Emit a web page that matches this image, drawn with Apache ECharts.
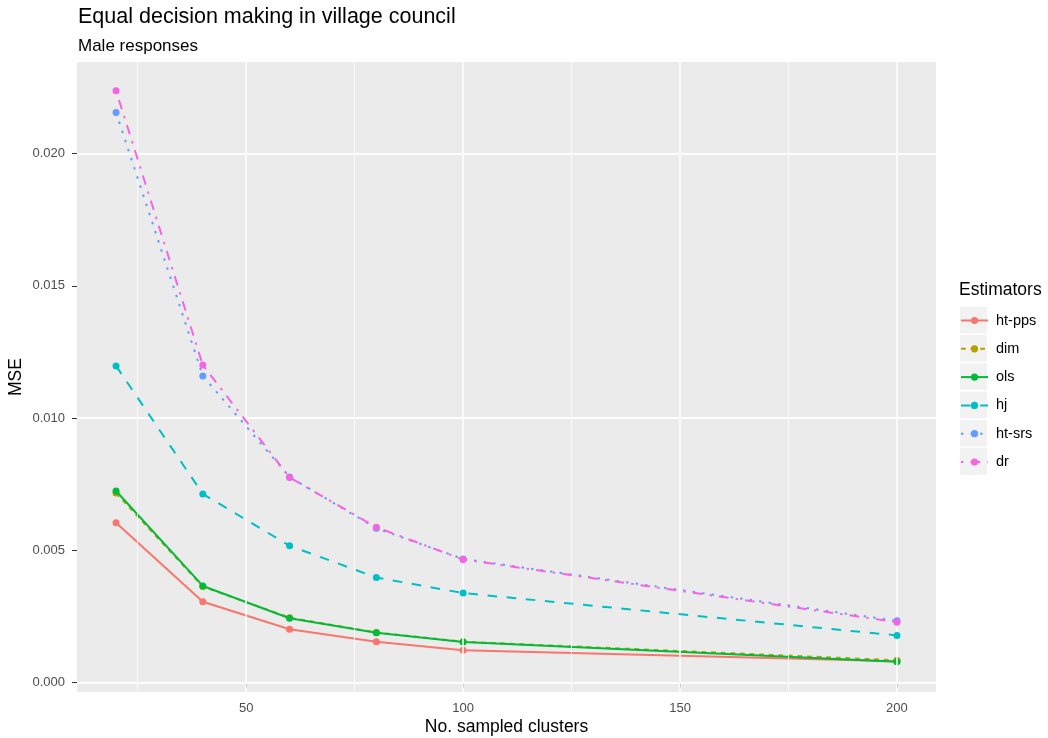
<!DOCTYPE html>
<html>
<head>
<meta charset="utf-8">
<script src="https://cdn.jsdelivr.net/npm/echarts@6/dist/echarts.min.js"></script>
<style>
html,body{margin:0;padding:0;background:#fff;}
#c{width:1048px;height:738px;}
</style>
</head>
<body>
<div id="c"></div>
<script>
// ---- data ----
const clusters = [20, 40, 60, 80, 100, 200];
const estimators = ['ht-pps', 'dim', 'ols', 'hj', 'ht-srs', 'dr'];
const htpps = [0.00604, 0.00305, 0.00201, 0.00154, 0.00122, 0.00080];
const dim   = [0.00716, 0.00363, 0.00245, 0.00189, 0.00154, 0.00084];
const ols   = [0.00724, 0.00365, 0.00243, 0.00188, 0.00153, 0.00078];
const hj    = [0.01197, 0.00713, 0.00517, 0.00397, 0.00338, 0.00178];
const htsrs = [0.02155, 0.01159, 0.00777, 0.00583, 0.00467, 0.00233];
const dr    = [0.02237, 0.01200, 0.00775, 0.00587, 0.00465, 0.00228];
const xTicks = [50, 100, 150, 200];
const xMinor = [25, 75, 125, 175];
const yTicks = [0, 0.005, 0.010, 0.015, 0.020];
const yMinor = [0.0025, 0.0075, 0.0125, 0.0175, 0.0225];

const values = [htpps, dim, ols, hj, htsrs, dr];
const colors = ['#F8766D', '#B79F00', '#00BA38', '#00BFC4', '#619CFF', '#F564E3'];
const dashes = ['solid', [4.8, 4.8], 'solid', [9.6, 9.6], [2.4, 7.2], [2.4, 7.2, 9.6, 7.2]];

const FONT = '"Liberation Sans", Arial, sans-serif';
const chart = echarts.init(document.getElementById('c'), null, {renderer: 'canvas'});

const gridLines = [];
xTicks.forEach(v => gridLines.push({xAxis: v, lineStyle: {width: 1.5}}));
xMinor.forEach(v => gridLines.push({xAxis: v, lineStyle: {width: 0.8}}));
yTicks.forEach(v => gridLines.push({yAxis: v, lineStyle: {width: 1.5}}));
yMinor.forEach(v => gridLines.push({yAxis: v, lineStyle: {width: 0.8}}));

const series = [{
  name: '_grid', type: 'line', data: [], silent: true, z: 0,
  markLine: {
    silent: true, symbol: ['none', 'none'], animation: false,
    label: {show: false},
    lineStyle: {color: '#FFFFFF', type: 'solid', width: 1},
    emphasis: {disabled: true},
    data: gridLines
  }
}];
estimators.forEach((name, i) => {
  series.push({
    name: name,
    type: 'line',
    data: clusters.map((c, j) => [c, values[i][j]]),
    symbol: 'circle',
    symbolSize: 7,
    showAllSymbol: true,
    animation: false,
    z: 2 + i,
    itemStyle: {color: colors[i]},
    lineStyle: {color: colors[i], width: 2, type: dashes[i], cap: 'butt'},
    emphasis: {disabled: true}
  });
});

const boxes = estimators.map((n, i) => ({
  type: 'rect', left: 960, top: 306.7 + i * 28.3, z: 0,
  shape: {width: 27, height: 26.7},
  style: {fill: '#F2F2F2'}
}));

chart.setOption({
  backgroundColor: '#FFFFFF',
  animation: false,
  title: [
    {text: 'Equal decision making in village council', left: 78, top: 6, padding: 0,
     textStyle: {fontFamily: FONT, fontSize: 21.5, fontWeight: 'normal', color: '#000'}},
    {text: 'Male responses', left: 78, top: 37.5, padding: 0,
     textStyle: {fontFamily: FONT, fontSize: 17, fontWeight: 'normal', color: '#000'}},
    {text: 'Estimators', left: 959, top: 281, padding: 0,
     textStyle: {fontFamily: FONT, fontSize: 17.5, fontWeight: 'normal', color: '#000'}}
  ],
  grid: {left: 77, right: 112, top: 62, bottom: 46, show: true, outerBoundsMode: 'none',
         backgroundColor: '#EBEBEB', borderWidth: 0, containLabel: false},
  legend: {
    data: estimators, orient: 'vertical', left: 960, top: 313, padding: 0,
    itemWidth: 27, itemHeight: 9, itemGap: 13.3,
    selectedMode: false,
    textStyle: {fontFamily: FONT, fontSize: 14.5, color: '#000', lineHeight: 9, padding: [0, 0, 0, 3]}
  },
  graphic: boxes,
  xAxis: {
    type: 'value', min: 11, max: 209,
    name: 'No. sampled clusters', nameLocation: 'middle', nameGap: 26, nameMoveOverlap: false,
    nameTextStyle: {fontFamily: FONT, fontSize: 17.5, color: '#000'},
    axisLine: {show: false},
    axisTick: {show: true, length: 5, customValues: xTicks, lineStyle: {color: '#333333', width: 1}},
    axisLabel: {customValues: xTicks, color: '#4D4D4D', fontFamily: FONT, fontSize: 13, margin: 10},
    splitLine: {show: false}
  },
  yAxis: {
    type: 'value', min: -0.00036, max: 0.02346,
    name: 'MSE', nameLocation: 'middle', nameGap: 52, nameMoveOverlap: false,
    nameTextStyle: {fontFamily: FONT, fontSize: 17.5, color: '#000'},
    axisLine: {show: false},
    axisTick: {show: true, length: 5, customValues: yTicks, lineStyle: {color: '#333333', width: 1}},
    axisLabel: {customValues: yTicks, color: '#4D4D4D', fontFamily: FONT, fontSize: 13, margin: 12,
                formatter: v => v.toFixed(3)},
    splitLine: {show: false}
  },
  series: series
});
</script>
</body>
</html>
